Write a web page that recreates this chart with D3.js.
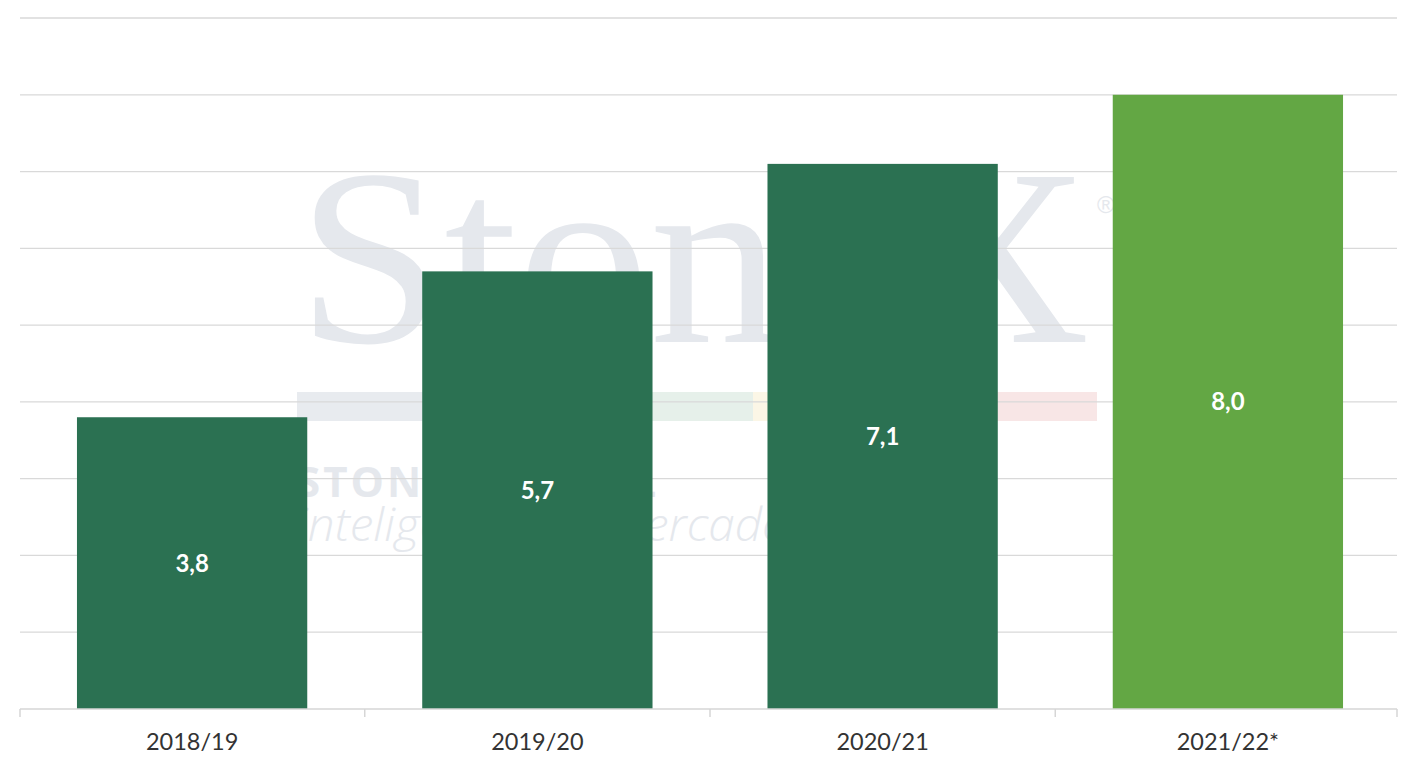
<!DOCTYPE html>
<html><head><meta charset="utf-8">
<script src="https://cdn.jsdelivr.net/npm/d3@7"></script>
<style>body{margin:0;background:#fff;} svg{display:block;}</style>
</head><body>
<svg id="c" width="1417" height="768"></svg>
<script>
const categories = ["2018/19", "2019/20", "2020/21", "2021/22*"];
const values = [3.8, 5.7, 7.1, 8.0];
const labels = ["3,8", "5,7", "7,1", "8,0"];
const projected = [false, false, false, true];
const yTicks = [0,1,2,3,4,5,6,7,8,9];

(function(){
const svg = d3.select("#c");
const mLeft = 20, mRight = 1397, mTop = 18, mBottom = 709;
const x = d3.scaleBand().domain(categories).range([mLeft, 1400]).paddingInner(0.333).paddingOuter(0.165);
const y = d3.scaleLinear().domain([0, 9]).range([mBottom, mTop]);

// watermark
const wm = svg.append("g");
wm.append("text").attr("x", 297).attr("y", 342).attr("font-family", "Liberation Serif, DejaVu Serif, serif")
  .attr("font-size", 252).attr("fill", "#e5e8ed").attr("textLength", 793).attr("lengthAdjust", "spacingAndGlyphs").text("StoneX");
wm.append("text").attr("x", 1097).attr("y", 213).attr("font-family", "Liberation Sans, sans-serif")
  .attr("font-size", 24).attr("fill", "#e5e8ed").text("®");
const band = [[297,525,"#e8ebef"],[525,753,"#e6f0ea"],[753,925,"#fbf6e6"],[925,1097,"#f8e6e6"]];
band.forEach(b => wm.append("rect").attr("x", b[0]).attr("y", 392).attr("width", b[1]-b[0]).attr("height", 29).attr("fill", b[2]));
wm.append("text").attr("x", 297).attr("y", 497).attr("font-family", "Open Sans, Lato, sans-serif").attr("font-weight", 700)
  .attr("font-size", 42).attr("letter-spacing", 3).attr("fill", "#e5e8ed").text("STONEX BRASIL");
wm.append("text").attr("x", 297).attr("y", 541).attr("font-family", "Open Sans, Lato, sans-serif").attr("font-weight", 300)
  .attr("font-style", "italic").attr("font-size", 46).attr("fill", "#e5e8ed")
  .attr("textLength", 492).attr("lengthAdjust", "spacingAndGlyphs").text("inteligência de mercado");

// gridlines
svg.append("g").selectAll("line").data(yTicks.filter(d => d > 0)).join("line")
  .attr("x1", mLeft).attr("x2", mRight).attr("y1", d => y(d)).attr("y2", d => y(d))
  .attr("stroke", "#d9d9d9").attr("stroke-width", 1.3);

// bars
svg.append("g").selectAll("rect").data(categories).join("rect")
  .attr("x", d => x(d)).attr("width", x.bandwidth())
  .attr("y", (d,i) => y(values[i])).attr("height", (d,i) => y(0) - y(values[i]))
  .attr("fill", (d,i) => projected[i] ? "#63a744" : "#2b7152");

// value labels
svg.append("g").selectAll("text").data(categories).join("text")
  .attr("x", d => x(d) + x.bandwidth()/2).attr("y", (d,i) => (y(values[i]) + y(0))/2)
  .attr("dy", "0.35em").attr("text-anchor", "middle")
  .attr("font-family", "Lato, Open Sans, sans-serif").attr("font-weight", 700).attr("font-size", 24)
  .attr("fill", "#fff").text((d,i) => labels[i]);

// x axis
const ax = svg.append("g");
ax.append("line").attr("x1", mLeft).attr("x2", mRight).attr("y1", mBottom).attr("y2", mBottom).attr("stroke", "#d6d6d6").attr("stroke-width", 1.5);
const bounds = categories.map(d => x(d) - x.step()*x.paddingInner()/2).concat([mRight]);
bounds[0] = mLeft;
ax.selectAll("line.t").data(bounds).join("line").attr("class","t")
  .attr("x1", d => d).attr("x2", d => d).attr("y1", mBottom).attr("y2", mBottom + 8)
  .attr("stroke", "#d6d6d6").attr("stroke-width", 1.5);
ax.selectAll("text").data(categories).join("text")
  .attr("x", d => x(d) + x.bandwidth()/2).attr("y", 750).attr("text-anchor", "middle")
  .attr("font-family", "Lato, Open Sans, sans-serif").attr("font-size", 23.5).attr("fill", "#333")
  .text(d => d);
})();
</script>
</body></html>
